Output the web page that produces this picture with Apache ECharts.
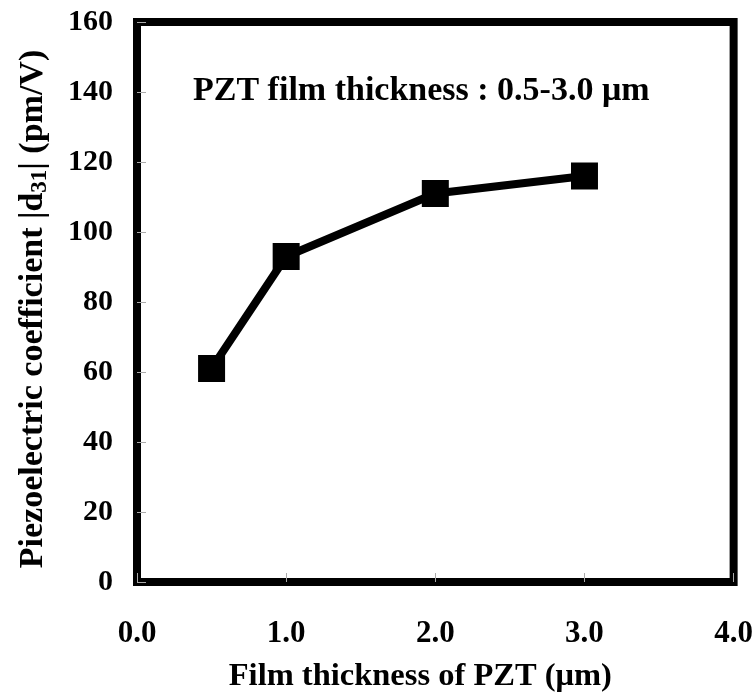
<!DOCTYPE html>
<html>
<head>
<meta charset="utf-8">
<script src="https://cdn.jsdelivr.net/npm/echarts@6/dist/echarts.min.js"></script>
<style>
  html, body { margin: 0; padding: 0; background: #fff; }
  #chart { width: 756px; height: 698px; }
</style>
</head>
<body>
<div id="chart"></div>
<script>
// 数据
var thickness = [0.5, 1.0, 2.0, 3.0];
var d31 = [61, 93, 111, 116];
var xTicks = [0, 1, 2, 3, 4];
var yTicks = [0, 20, 40, 60, 80, 100, 120, 140, 160];

var serif = '"Liberation Serif", "Times New Roman", serif';

var chart = echarts.init(document.getElementById('chart'));
var option = {
    backgroundColor: '#fff',
    animation: false,
    grid: {
        left: 137,
        right: 19,
        top: 22,
        bottom: 114,
        show: true,
        borderColor: '#000',
        borderWidth: 8,
        backgroundColor: 'transparent'
    },
    graphic: [{
        type: 'text',
        left: 193,
        top: 74,
        style: {
            text: 'PZT film thickness : 0.5-3.0 μm',
            font: 'bold 34px ' + serif,
            fill: '#000'
        }
    }, {
        // y轴标题（带下标）
        type: 'text',
        x: 33,
        y: 309,
        rotation: Math.PI / 2,
        style: {
            text: 'Piezoelectric coefficient |d{sub|31}| (pm/V)',
            align: 'center',
            verticalAlign: 'middle',
            fontFamily: serif,
            fontWeight: 'bold',
            fontSize: 34,
            lineHeight: 38,
            fill: '#000',
            rich: {
                sub: {
                    fontFamily: serif,
                    fontWeight: 'bold',
                    fontSize: 23,
                    lineHeight: 22,
                    verticalAlign: 'bottom',
                    fill: '#000'
                }
            }
        }
    }],
    xAxis: {
        type: 'value',
        min: xTicks[0],
        max: xTicks[xTicks.length - 1],
        interval: 1,
        name: 'Film thickness of PZT (μm)',
        nameLocation: 'middle',
        nameGap: 78,
        nameTextStyle: {
            fontFamily: serif,
            fontWeight: 'bold',
            fontSize: 32.5,
            color: '#000',
            padding: [0, 30, 0, 0]
        },
        axisLine: { show: false },
        axisTick: { show: true, inside: true, length: 9, lineStyle: { color: '#aaa', width: 1 } },
        splitLine: { show: false },
        axisLabel: {
            margin: 36,
            fontFamily: serif,
            fontWeight: 'bold',
            fontSize: 31,
            color: '#000',
            formatter: function (v) { return v.toFixed(1); }
        }
    },
    yAxis: {
        type: 'value',
        min: yTicks[0],
        max: yTicks[yTicks.length - 1],
        interval: 20,
        axisLine: { show: false },
        axisTick: { show: true, inside: true, length: 9, lineStyle: { color: '#aaa', width: 1 } },
        splitLine: { show: false },
        axisLabel: {
            margin: 24,
            padding: [6, 0, 0, 0],
            fontFamily: serif,
            fontWeight: 'bold',
            fontSize: 30,
            color: '#000'
        }
    },
    series: [{
        type: 'line',
        data: thickness.map(function (x, i) { return [x, d31[i]]; }),
        symbol: 'rect',
        symbolSize: 27,
        itemStyle: { color: '#000' },
        lineStyle: { color: '#000', width: 8 },
        z: 3
    }]
};
chart.setOption(option);
</script>
</body>
</html>
